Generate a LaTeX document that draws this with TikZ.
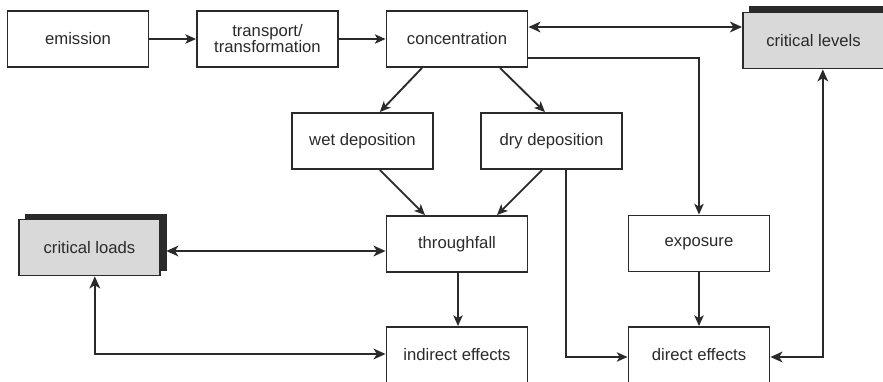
\documentclass[tikz,border=0pt]{standalone}
\usepackage{fontspec}
\setmainfont{Liberation Sans}
\usetikzlibrary{arrows.meta}
\definecolor{ink}{HTML}{2A2A2A}
\definecolor{shade}{HTML}{D9D9D9}
\tikzset{
  box/.style={draw=ink, line width=1.4pt, fill=white, minimum width=105.75pt, minimum height=42pt,
    inner sep=2pt, align=center, font=\fontsize{12.5}{14}\selectfont, text=ink},
  critbox/.style={box, fill=shade},
  shadowbox/.style={draw=ink, fill=ink, minimum width=105.75pt, minimum height=42pt, line width=0.5pt},
  conn/.style={draw=ink, line width=1.4pt, -{Stealth[length=8pt,width=7pt,inset=2pt]}},
  dconn/.style={draw=ink, line width=2pt, {Stealth[length=9pt,width=8pt,inset=2.5pt]}-{Stealth[length=9pt,width=8pt,inset=2.5pt]}},
  bconn/.style={draw=ink, line width=1.8pt, {Stealth[length=9pt,width=8pt,inset=2.5pt]}-{Stealth[length=9pt,width=8pt,inset=2.5pt]}},
}
\begin{document}
\begin{tikzpicture}[x=0.75pt,y=-0.75pt]
\clip (0,0) rectangle (883,382);
\fill[white] (0,0) rectangle (883,382);
% nodes
\node[box] (emis) at (78,39) {emission};
\node[box] (trans) at (267.5,39) {transport/\\[-2pt]transformation};
\node[box] (conc) at (457,39) {concentration};
\node[shadowbox] (clevsh) at (820,34) {};
\node[critbox] (clev) at (813.5,40.5) {critical levels};
\node[box] (wet) at (362.5,141) {wet deposition};
\node[box] (dry) at (551.5,141) {dry deposition};
\node[box] (thru) at (457,244) {throughfall};
\node[box] (expo) at (699,243.5) {exposure};
\node[shadowbox] (cloadsh) at (95.5,242.5) {};
\node[critbox] (cload) at (89.5,247.5) {critical loads};
\node[box] (indir) at (457,355) {indirect effects};
\node[box] (dir) at (699,355) {direct effects};
% connectors
\draw[conn] (emis) -- (trans);
\draw[conn] (trans) -- (conc);
\draw[dconn] ([yshift=9pt]conc.east) -- ([yshift=9pt]conc.east -| clev.west);
\draw[conn] ([yshift=-14.25pt]conc.east) -| (expo.north);
\draw[conn] ([xshift=-26.25pt]conc.south) -- ([xshift=13pt]wet.north);
\draw[conn] ([xshift=32.25pt]conc.south) -- ([xshift=-4.9pt]dry.north);
\draw[conn] ([xshift=13pt]wet.south) -- ([xshift=-24pt]thru.north);
\draw[conn] ([xshift=-7pt]dry.south) -- ([xshift=30pt]thru.north);
\draw[conn] ([xshift=10.9pt]dry.south) |- ([yshift=-1.5pt]dir.west);
\draw[conn] (expo.south) -- (expo.south |- dir.north);
\draw[conn] ([xshift=0.75pt]thru.south) -- ([xshift=0.75pt]thru.south |- indir.north);
\draw[dconn] ([yshift=-5.25pt]thru.west) -- ([yshift=-5.25pt]thru.west -| cloadsh.east);
\draw[bconn] ([xshift=4pt]cload.south) |- ([yshift=0.75pt]indir.west);
\draw[bconn] ([xshift=7pt]clev.south) |- ([yshift=-1.5pt]dir.east);
\end{tikzpicture}
\end{document}
